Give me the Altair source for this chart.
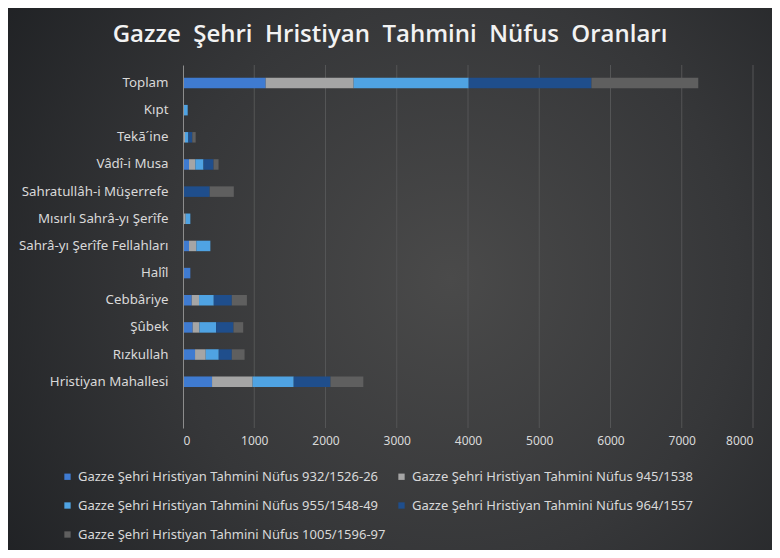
import altair as alt
import pandas as pd

categories = ["Toplam", "Kıpt", "Tekā´ine", "Vâdî-i Musa", "Sahratullâh-i Müşerrefe",
              "Mısırlı Sahrâ-yı Şerîfe", "Sahrâ-yı Şerîfe Fellahları", "Halîl",
              "Cebbâriye", "Şûbek", "Rızkullah", "Hristiyan Mahallesi"]

series_names = [
    "Gazze Şehri Hristiyan Tahmini Nüfus 932/1526-26",
    "Gazze Şehri Hristiyan Tahmini Nüfus 945/1538",
    "Gazze Şehri Hristiyan Tahmini Nüfus 955/1548-49",
    "Gazze Şehri Hristiyan Tahmini Nüfus 964/1557",
    "Gazze Şehri Hristiyan Tahmini Nüfus 1005/1596-97",
]

title_words = ["Gazze", "Şehri", "Hristiyan", "Tahmini", "Nüfus", "Oranları"]

s_932 = [1160, 0, 0, 84, 0, 0, 84, 103, 122, 136, 169, 408]
s_945 = [1235, 0, 28, 89, 0, 37, 103, 0, 103, 94, 150, 569]
s_955 = [1615, 66, 47, 115, 0, 66, 197, 0, 207, 235, 183, 577]
s_964 = [1723, 0, 56, 141, 375, 0, 0, 0, 253, 244, 183, 516]
s_1005 = [1499, 0, 47, 70, 338, 0, 0, 0, 212, 136, 179, 461]

colors = ["#3f7bd1", "#a5a5a5", "#4fa3e3", "#1f4e8c", "#5f5f5f"]
grid_ticks = [1000, 2000, 3000, 4000, 5000, 6000, 7000, 8000]

rows = []
for i, (name, vals) in enumerate(zip(series_names, [s_932, s_945, s_955, s_964, s_1005])):
    for cat, v in zip(categories, vals):
        if v > 0:
            rows.append({"kategori": cat, "seri": name, "deger": v, "idx": i})
df = pd.DataFrame(rows)

W, H = 570, 363
PL, PT, PR, PB = 175, 57, 19, 122

xscale = alt.Scale(domain=[0, 8000], nice=False)

bg = alt.Chart(alt.InlineData(values=[{"a": 1}])).mark_rect(
    fill={"gradient": "radial",
          "stops": [{"offset": 0, "color": "#4a4a4a"},
                    {"offset": 0.5, "color": "#363739"},
                    {"offset": 1, "color": "#1c1e21"}],
          "x1": 0.58, "y1": 0.5, "r1": 0, "x2": 0.58, "y2": 0.5, "r2": 0.75},
    strokeWidth=0,
).encode(
    x=alt.value(-PL), x2=alt.value(W + PR), y=alt.value(-PT), y2=alt.value(H + PB)
)

grid = alt.Chart(pd.DataFrame({"t": grid_ticks})).mark_rule(
    color="#545556", strokeWidth=1
).encode(x=alt.X("t:Q", scale=xscale))

bars = alt.Chart(df).mark_bar().encode(
    y=alt.Y("kategori:N", sort=categories, title=None,
            scale=alt.Scale(paddingInner=0.613, paddingOuter=0.99, align=0.237),
            axis=alt.Axis(labelColor="#d9d9d9", labelFont="Noto Sans", labelFontSize=13.3,
                          labelPadding=15, ticks=False, domainColor="#8c8c8c",
                          domainWidth=1, zindex=1, labelLimit=300)),
    x=alt.X("deger:Q", stack="zero", scale=xscale, title=None,
            axis=alt.Axis(values=[0] + grid_ticks, labelColor="#d9d9d9", labelFont="Noto Sans",
                          labelFontSize=12, labelPadding=7, ticks=False, domain=False,
                          grid=False, zindex=1, format="d")),
    color=alt.Color("seri:N", sort=series_names,
                    scale=alt.Scale(domain=series_names, range=colors),
                    legend=alt.Legend(title=None, orient="none", legendX=-122, legendY=405,
                                      columns=2, direction="horizontal",
                                      symbolType="square", symbolSize=40, symbolStrokeWidth=0,
                                      labelColor="#d9d9d9", labelFont="Noto Sans",
                                      labelFontSize=13, labelLimit=500,
                                      columnPadding=9, rowPadding=15, zindex=1)),
    order=alt.Order("idx:Q", sort="ascending"),
)

chart = alt.layer(bg, grid, bars).properties(
    width=W, height=H,
    padding={"left": PL, "top": PT, "right": PR, "bottom": PB},
    autosize=alt.AutoSizeParams(type="none"),
    background="#2a2b2d",
    title=alt.TitleParams(
        " \u00a0".join(title_words),
        color="#f2f2f2", font="Open Sans", fontSize=24, fontWeight=600,
        anchor="middle", frame="group", dx=-78, offset=-58, baseline="alphabetic",
    ),
).configure_view(stroke=None)

chart.save("out.html", embed_options={"renderer": "svg", "actions": False})
